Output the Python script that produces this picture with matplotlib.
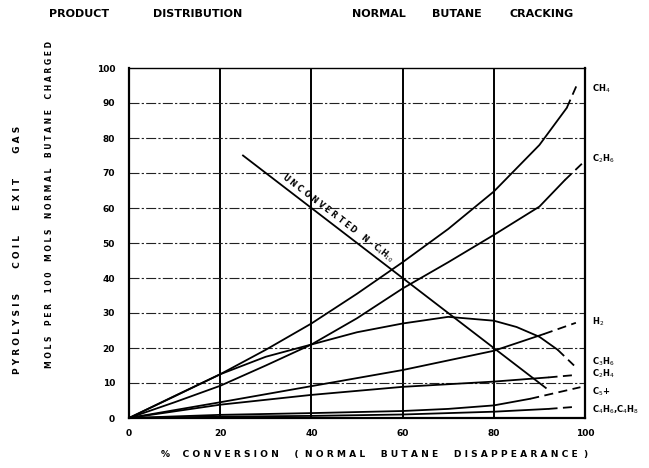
import matplotlib
matplotlib.use("Agg")
import matplotlib.pyplot as plt

# ---- data ----
ch4_x = [0, 10, 20, 30, 40, 50, 60, 70, 80, 90, 96]
ch4_y = [0, 6.2, 12.5, 19.5, 27, 35.5, 44.5, 54, 64.7, 78, 88.6]
ch4_dx = [96, 98.5]
ch4_dy = [88.6, 96]

c2h6_x = [0, 10, 20, 30, 40, 50, 60, 70, 80, 90, 95.6]
c2h6_y = [0, 4.5, 9.2, 15, 21, 28.5, 37, 44.5, 52.3, 60.4, 68]
c2h6_dx = [95.6, 99.6]
c2h6_dy = [68, 73]

c3h6_x = [0, 10, 20, 30, 40, 50, 60, 70, 80, 85, 90, 94]
c3h6_y = [0, 6.3, 12.5, 17.5, 21, 24.5, 27, 28.9, 27.8, 26, 23.2, 19.5]
c3h6_dx = [94, 97.6]
c3h6_dy = [19.5, 15]

h2_x = [0, 20, 40, 60, 80, 91]
h2_y = [0, 4.5, 9.1, 13.7, 19.2, 24]
h2_dx = [91, 98]
h2_dy = [24, 27.2]

c2h4_x = [0, 20, 40, 60, 80, 92]
c2h4_y = [0, 3.8, 6.6, 8.9, 10.4, 11.6]
c2h4_dx = [92, 98]
c2h4_dy = [11.6, 12.3]

c5_x = [0, 20, 40, 60, 70, 80, 88]
c5_y = [0, 0.9, 1.4, 2.0, 2.6, 3.6, 5.5]
c5_dx = [88, 99]
c5_dy = [5.5, 8.8]

c4_x = [0, 20, 40, 60, 80, 92]
c4_y = [0, 0.4, 0.6, 1.0, 1.8, 2.6]
c4_dx = [92, 98]
c4_dy = [2.6, 3.2]

unconv_x = [25, 91.4]
unconv_y = [75, 8.6]

x_ticks = [0, 20, 40, 60, 80, 100]
y_ticks = [0, 10, 20, 30, 40, 50, 60, 70, 80, 90, 100]

right_labels = ["CH$_4$", "C$_2$H$_6$", "H$_2$", "C$_3$H$_6$", "C$_2$H$_4$", "C$_5$+",
                "C$_4$H$_6$,C$_4$H$_8$"]
right_label_y = [94, 74, 27.5, 16, 12.5, 7.5, 2.5]

W, H = 649, 468
fig = plt.figure(figsize=(W / 100, H / 100), dpi=100)
ax = fig.add_axes([129 / W, 1 - 418 / H, (585 - 129) / W, (418 - 68) / H])
ax.set_xlim(0, 100)
ax.set_ylim(0, 100)

# grid
for gx in x_ticks[1:-1]:
    ax.axvline(gx, color="black", lw=1.4, zorder=1)
for gy in y_ticks[1:-1]:
    ax.axhline(gy, color="#222222", lw=0.8, ls=(0, (9, 2, 2, 2)), zorder=1)

lw = 1.3
series = [
    (ch4_x, ch4_y, ch4_dx, ch4_dy),
    (c2h6_x, c2h6_y, c2h6_dx, c2h6_dy),
    (c3h6_x, c3h6_y, c3h6_dx, c3h6_dy),
    (h2_x, h2_y, h2_dx, h2_dy),
    (c2h4_x, c2h4_y, c2h4_dx, c2h4_dy),
    (c5_x, c5_y, c5_dx, c5_dy),
    (c4_x, c4_y, c4_dx, c4_dy),
]
for sx, sy, dx, dy in series:
    ax.plot(sx, sy, color="black", lw=lw, solid_capstyle="round", zorder=3)
    ax.plot(dx, dy, color="black", lw=lw, ls=(0, (5, 3)), zorder=3)

ax.plot(unconv_x, unconv_y, color="black", lw=lw, zorder=3)
ax.text(45, 55.8, "U N C O N V E R T E D   N - C$_4$H$_{10}$", rotation=-37.5,
        rotation_mode="anchor", ha="center", va="bottom", fontsize=5.5,
        fontweight="bold", transform=ax.transData, zorder=4)

for lab, ly in zip(right_labels, right_label_y):
    ax.text(101.5, ly, lab, ha="left", va="center", fontsize=6, fontweight="bold",
            clip_on=False)

for s in ax.spines.values():
    s.set_linewidth(1.6)
ax.spines["top"].set_linewidth(1.0)

ax.set_xticks(x_ticks)
ax.set_yticks(y_ticks)
ax.set_xticklabels([str(t) for t in x_ticks], fontsize=6.5, fontweight="bold")
ax.set_yticklabels([str(t) for t in y_ticks], fontsize=6.5, fontweight="bold")
ax.tick_params(length=0, pad=8)
ax.tick_params(axis="y", pad=10)

def px(x, y):
    return x / W, 1 - y / H

fkw = dict(fontsize=8, fontweight="bold", va="center")
for word, xp in [("PRODUCT", 49), ("DISTRIBUTION", 153), ("NORMAL", 352),
                 ("BUTANE", 432), ("CRACKING", 510)]:
    fig.text(*px(xp, 14), word, ha="left", **fkw)

fig.text(*px(18, 250), "P Y R O L Y S I S        C O I L        E X I T        G A S",
         rotation=90, ha="center", va="center", fontsize=6.5, fontweight="bold")
fig.text(*px(50, 205),
         "M O L S    P E R    1 0 0    M O L S    N O R M A L    B U T A N E    C H A R G E D",
         rotation=90, ha="center", va="center", fontsize=5.5, fontweight="bold")
fig.text(*px(375, 455),
         "%    C O N V E R S I O N     (  N O R M A L     B U T A N E     D I S A P P E A R A N C E  )",
         ha="center", va="center", fontsize=6.6, fontweight="bold")

fig.savefig("out.png", dpi=100)
